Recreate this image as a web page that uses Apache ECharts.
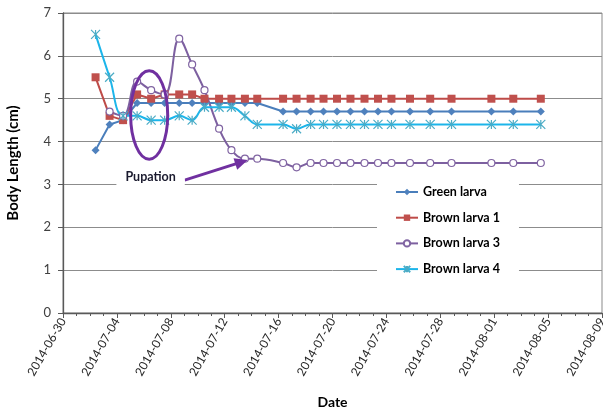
<!DOCTYPE html>
<html><head><meta charset="utf-8">
<script src="https://cdn.jsdelivr.net/npm/echarts@6/dist/echarts.min.js"></script>
<style>html,body{margin:0;padding:0;background:#fff}#c{width:603px;height:410px}</style>
</head><body><div id="c"></div>
<script>
// ---- data ----
const dates = [
  '2014-07-02 10:00','2014-07-03 11:00','2014-07-04 11:00','2014-07-05 12:00','2014-07-06 13:00',
  '2014-07-07 13:00','2014-07-08 15:00','2014-07-09 14:00','2014-07-10 12:00','2014-07-11 14:00',
  '2014-07-12 12:00','2014-07-13 12:00','2014-07-14 10:00','2014-07-16 08:00','2014-07-17 08:00',
  '2014-07-18 09:00','2014-07-19 08:00','2014-07-20 08:00','2014-07-21 08:00','2014-07-22 09:00',
  '2014-07-23 09:00','2014-07-24 09:00','2014-07-25 18:00','2014-07-27 06:00','2014-07-28 20:00',
  '2014-07-31 19:00','2014-08-02 10:00','2014-08-04 11:00'
];
const greenLarva  = [3.8,4.4,4.5,4.9,4.9,4.9,4.9,4.9,4.9,4.9,4.9,4.9,4.9,4.7,4.7,4.7,4.7,4.7,4.7,4.7,4.7,4.7,4.7,4.7,4.7,4.7,4.7,4.7];
const brownLarva1 = [5.5,4.6,4.5,5.1,5.0,5.1,5.1,5.1,5.0,5.0,5.0,5.0,5.0,5.0,5.0,5.0,5.0,5.0,5.0,5.0,5.0,5.0,5.0,5.0,5.0,5.0,5.0,5.0];
const brownLarva3 = [null,4.7,4.6,5.4,5.2,5.1,6.4,5.8,5.2,4.3,3.8,3.6,3.6,3.5,3.4,3.5,3.5,3.5,3.5,3.5,3.5,3.5,3.5,3.5,3.5,3.5,3.5,3.5];
const brownLarva4 = [6.5,5.5,4.6,4.6,4.5,4.5,4.6,4.5,4.8,4.8,4.8,4.6,4.4,4.4,4.3,4.4,4.4,4.4,4.4,4.4,4.4,4.4,4.4,4.4,4.4,4.4,4.4,4.4];
const xTickLabels = ['2014-06-30','2014-07-04','2014-07-08','2014-07-12','2014-07-16','2014-07-20',
  '2014-07-24','2014-07-28','2014-08-01','2014-08-05','2014-08-09'];
const seriesNames = ['Green larva','Brown larva 1','Brown larva 3','Brown larva 4'];

// ---- helpers ----
const BASE = Date.UTC(2014,5,30);
function dayOf(s){
  const [d,t] = s.split(' ');
  const [Y,M,D] = d.split('-').map(Number);
  const [h,m] = t.split(':').map(Number);
  return (Date.UTC(Y,M-1,D,h,m) - BASE) / 86400000;
}
function pts(vals){
  const out = [];
  dates.forEach((d,i)=>{ if (vals[i] != null) out.push([dayOf(d), vals[i]]); });
  return out;
}
const FONT = 'Lato';
const starPath = 'path://M0 0L10 10M10 0L0 10M5 0L5 10';

const chart = echarts.init(document.getElementById('c'), null, {renderer:'canvas'});
const option = {
  animation:false,
  backgroundColor:'#fff',
  grid:{left:63, top:13, width:539, height:300, show:true, borderColor:'#898989', borderWidth:1,
    containLabel:false, outerBoundsMode:'none'},
  xAxis:{
    type:'value', min:0, max:40, interval:4,
    name:'Date', nameLocation:'middle', nameGap:82,
    nameTextStyle:{fontFamily:FONT, fontWeight:'bold', fontSize:14, color:'#000'},
    axisLine:{lineStyle:{color:'#595959', width:1.3}},
    axisTick:{show:true, length:5, lineStyle:{color:'#595959'}},
    minorTick:{show:true, splitNumber:4, length:3, lineStyle:{color:'#595959'}},
    splitLine:{show:false},
    axisLabel:{rotate:60, margin:6, fontFamily:FONT, fontSize:12, color:'#262626',
      formatter:(v)=> xTickLabels[Math.round(v/4)] || ''}
  },
  yAxis:{
    type:'value', min:0, max:7, interval:1,
    name:'Body Length (cm)', nameLocation:'middle', nameGap:42, nameRotate:90,
    nameTextStyle:{fontFamily:FONT, fontWeight:'bold', fontSize:15, color:'#000'},
    axisLine:{show:true, lineStyle:{color:'#595959', width:1.3}},
    axisTick:{show:true, length:5, lineStyle:{color:'#595959'}},
    splitLine:{lineStyle:{color:'#8c8c8c', width:1}},
    axisLabel:{margin:12, fontFamily:FONT, fontSize:13, color:'#404040'}
  },
  legend:{
    orient:'vertical', left:377, top:178, padding:[7,19,7,18], itemGap:11.7,
    itemWidth:22, itemHeight:8, backgroundColor:'#fff',
    textStyle:{fontFamily:FONT, fontWeight:'bold', fontSize:12.5, color:'#000', lineHeight:14},
    data:seriesNames
  },
  series:[
    {name:seriesNames[0], type:'line', data:pts(greenLarva), symbol:'diamond', symbolSize:8,
      lineStyle:{color:'#4A7EBB', width:2}, itemStyle:{color:'#4F81BD'}},
    {name:seriesNames[1], type:'line', data:pts(brownLarva1), symbol:'rect', symbolSize:8,
      lineStyle:{color:'#BE4B48', width:2}, itemStyle:{color:'#C0504D'}},
    {name:seriesNames[2], type:'line', data:pts(brownLarva3), symbol:'circle', symbolSize:7, smooth:0.4,
      lineStyle:{color:'#7D60A0', width:2}, itemStyle:{color:'#fff', borderColor:'#8064A2', borderWidth:1.2}},
    {name:seriesNames[3], type:'line', data:pts(brownLarva4), symbol:starPath, symbolSize:9, smooth:0.4,
      lineStyle:{color:'#1CB5EA', width:2}, itemStyle:{color:'rgba(0,0,0,0)', borderColor:'#4BACC6', borderWidth:1.2}}
  ]
};
chart.setOption(option);

// ---- annotation (anchored in data coordinates) ----
const ellipseBox = {d0:5.02, d1:7.77, v0:3.59, v1:5.65};
const arrowFrom = [9.03, 3.10], arrowTo = [13.71, 3.57];
const labelAt = [6.5, 3.17];
function px(p){ return chart.convertToPixel({gridIndex:0}, p); }
const a = px([ellipseBox.d0, ellipseBox.v1]), b = px([ellipseBox.d1, ellipseBox.v0]);
const s = px(arrowFrom), e = px(arrowTo), t = px(labelAt);
const ang = Math.atan2(e[1]-s[1], e[0]-s[0]);
const L = 13, W = 6;
const back = [e[0]-L*Math.cos(ang), e[1]-L*Math.sin(ang)];
const nx = -Math.sin(ang), ny = Math.cos(ang);
const purple = '#7030A0';
chart.setOption({graphic:[
  {type:'ellipse', z:100, shape:{cx:(a[0]+b[0])/2, cy:(a[1]+b[1])/2, rx:(b[0]-a[0])/2, ry:(b[1]-a[1])/2},
    style:{fill:'none', stroke:purple, lineWidth:3}},
  {type:'line', z:100, shape:{x1:s[0], y1:s[1], x2:back[0]+2*Math.cos(ang), y2:back[1]+2*Math.sin(ang)},
    style:{stroke:purple, lineWidth:3}},
  {type:'polygon', z:100, shape:{points:[e, [back[0]+nx*W, back[1]+ny*W], [back[0]-nx*W, back[1]-ny*W]]},
    style:{fill:purple}},
  {type:'text', z:100, x:t[0], y:t[1],
    style:{text:'Pupation', font:'bold 12.5px Lato', fill:'#1a1a2e', align:'center', verticalAlign:'middle',
      backgroundColor:'#fff', padding:[3,9]}}
]});
</script>
</body></html>
